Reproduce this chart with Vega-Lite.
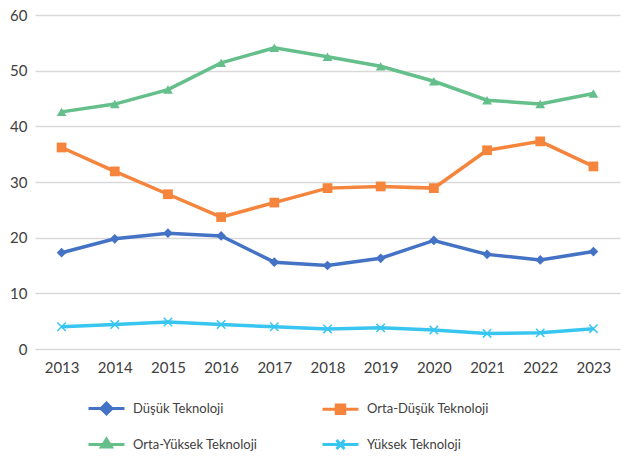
{
  "$schema": "https://vega.github.io/schema/vega-lite/v6.json",
  "width": 585,
  "height": 334,
  "autosize": "none",
  "padding": {"left": 35, "top": 15, "right": 3, "bottom": 108},
  "background": "white",
  "config": {
    "view": {"stroke": null},
    "font": "Lato",
    "axis": {"labelFont": "Lato", "labelFontSize": 15, "labelColor": "#404040"},
    "legend": {"labelFont": "Lato", "labelFontSize": 13, "labelColor": "#404040"}
  },
  "data": {
    "values": [
      {"year": "2013", "series": "Düşük Teknoloji", "value": 17.3},
      {"year": "2014", "series": "Düşük Teknoloji", "value": 19.8},
      {"year": "2015", "series": "Düşük Teknoloji", "value": 20.8},
      {"year": "2016", "series": "Düşük Teknoloji", "value": 20.3},
      {"year": "2017", "series": "Düşük Teknoloji", "value": 15.6},
      {"year": "2018", "series": "Düşük Teknoloji", "value": 15.0},
      {"year": "2019", "series": "Düşük Teknoloji", "value": 16.3},
      {"year": "2020", "series": "Düşük Teknoloji", "value": 19.5},
      {"year": "2021", "series": "Düşük Teknoloji", "value": 17.0},
      {"year": "2022", "series": "Düşük Teknoloji", "value": 16.0},
      {"year": "2023", "series": "Düşük Teknoloji", "value": 17.5},
      {"year": "2013", "series": "Orta-Düşük Teknoloji", "value": 36.2},
      {"year": "2014", "series": "Orta-Düşük Teknoloji", "value": 31.9},
      {"year": "2015", "series": "Orta-Düşük Teknoloji", "value": 27.8},
      {"year": "2016", "series": "Orta-Düşük Teknoloji", "value": 23.7},
      {"year": "2017", "series": "Orta-Düşük Teknoloji", "value": 26.3},
      {"year": "2018", "series": "Orta-Düşük Teknoloji", "value": 28.9},
      {"year": "2019", "series": "Orta-Düşük Teknoloji", "value": 29.2},
      {"year": "2020", "series": "Orta-Düşük Teknoloji", "value": 28.9},
      {"year": "2021", "series": "Orta-Düşük Teknoloji", "value": 35.7},
      {"year": "2022", "series": "Orta-Düşük Teknoloji", "value": 37.3},
      {"year": "2023", "series": "Orta-Düşük Teknoloji", "value": 32.8},
      {"year": "2013", "series": "Orta-Yüksek Teknoloji", "value": 42.6},
      {"year": "2014", "series": "Orta-Yüksek Teknoloji", "value": 44.0},
      {"year": "2015", "series": "Orta-Yüksek Teknoloji", "value": 46.6},
      {"year": "2016", "series": "Orta-Yüksek Teknoloji", "value": 51.4},
      {"year": "2017", "series": "Orta-Yüksek Teknoloji", "value": 54.1},
      {"year": "2018", "series": "Orta-Yüksek Teknoloji", "value": 52.5},
      {"year": "2019", "series": "Orta-Yüksek Teknoloji", "value": 50.8},
      {"year": "2020", "series": "Orta-Yüksek Teknoloji", "value": 48.1},
      {"year": "2021", "series": "Orta-Yüksek Teknoloji", "value": 44.7},
      {"year": "2022", "series": "Orta-Yüksek Teknoloji", "value": 44.0},
      {"year": "2023", "series": "Orta-Yüksek Teknoloji", "value": 45.9},
      {"year": "2013", "series": "Yüksek Teknoloji", "value": 4.0},
      {"year": "2014", "series": "Yüksek Teknoloji", "value": 4.4},
      {"year": "2015", "series": "Yüksek Teknoloji", "value": 4.85},
      {"year": "2016", "series": "Yüksek Teknoloji", "value": 4.4},
      {"year": "2017", "series": "Yüksek Teknoloji", "value": 4.0},
      {"year": "2018", "series": "Yüksek Teknoloji", "value": 3.6},
      {"year": "2019", "series": "Yüksek Teknoloji", "value": 3.8},
      {"year": "2020", "series": "Yüksek Teknoloji", "value": 3.4},
      {"year": "2021", "series": "Yüksek Teknoloji", "value": 2.8},
      {"year": "2022", "series": "Yüksek Teknoloji", "value": 2.9},
      {"year": "2023", "series": "Yüksek Teknoloji", "value": 3.65}
    ]
  },
  "encoding": {
    "x": {
      "field": "year", "type": "ordinal",
      "scale": {"type": "point", "padding": 0.5},
      "axis": {"title": null, "labelAngle": 0, "ticks": false, "domain": false, "labelPadding": 11}
    },
    "y": {
      "field": "value", "type": "quantitative",
      "scale": {"domain": [0, 60], "nice": false},
      "axis": {"title": null, "values": [0, 10, 20, 30, 40, 50, 60], "ticks": false, "domain": false, "gridColor": "#d9d9d9", "gridWidth": 1.5, "labelPadding": 8}
    },
    "color": {
      "field": "series", "type": "nominal",
      "scale": {
        "domain": ["Düşük Teknoloji", "Orta-Yüksek Teknoloji", "Orta-Düşük Teknoloji", "Yüksek Teknoloji"],
        "range": ["#4472C4", "#64BF8B", "#F5843C", "#38C6F1"]
      },
      "legend": {
        "title": null,
        "orient": "none",
        "legendX": 65,
        "legendY": 387,
        "columns": 2,
        "columnPadding": 58,
        "rowPadding": 13,
        "symbolSize": 100,
        "symbolStrokeWidth": 3,
        "labelOffset": 20,
        "encode": {
          "symbols": {
            "update": {
              "shape": {"signal": "datum.value === 'Düşük Teknoloji' ? 'M-3.6,0L3.6,0M-1.1,0L0,-1.1L1.1,0L0,1.1Z' : datum.value === 'Orta-Düşük Teknoloji' ? 'M-3.6,0L3.6,0M-0.85,-0.85L0.85,-0.85L0.85,0.85L-0.85,0.85Z' : datum.value === 'Orta-Yüksek Teknoloji' ? 'M-3.6,0L3.6,0M0,-1.1L1,0.5L-1,0.5Z' : 'M-3.6,0L3.6,0M-0.8,-0.9L0.8,0.9M-0.8,0.9L0.8,-0.9'"},
              "fill": {"scale": "color", "field": "value"},
              "stroke": {"scale": "color", "field": "value"},
              "strokeWidth": {"value": 3}
            }
          }
        }
      }
    }
  },
  "layer": [
    {
      "mark": {"type": "line", "strokeWidth": 3.5}
    },
    {
      "transform": [{"filter": "datum.series !== 'Yüksek Teknoloji'"}],
      "mark": {"type": "point", "filled": true, "opacity": 1, "size": 95},
      "encoding": {
        "shape": {
          "field": "series", "type": "nominal",
          "scale": {"domain": ["Düşük Teknoloji", "Orta-Düşük Teknoloji", "Orta-Yüksek Teknoloji"], "range": ["diamond", "square", "triangle-up"]},
          "legend": null
        }
      }
    },
    {
      "transform": [{"filter": "datum.series === 'Yüksek Teknoloji'"}],
      "mark": {"type": "point", "filled": false, "opacity": 1, "size": 70, "strokeWidth": 1.5, "shape": "M-1,-1L1,1M-1,1L1,-1"}
    }
  ]
}
